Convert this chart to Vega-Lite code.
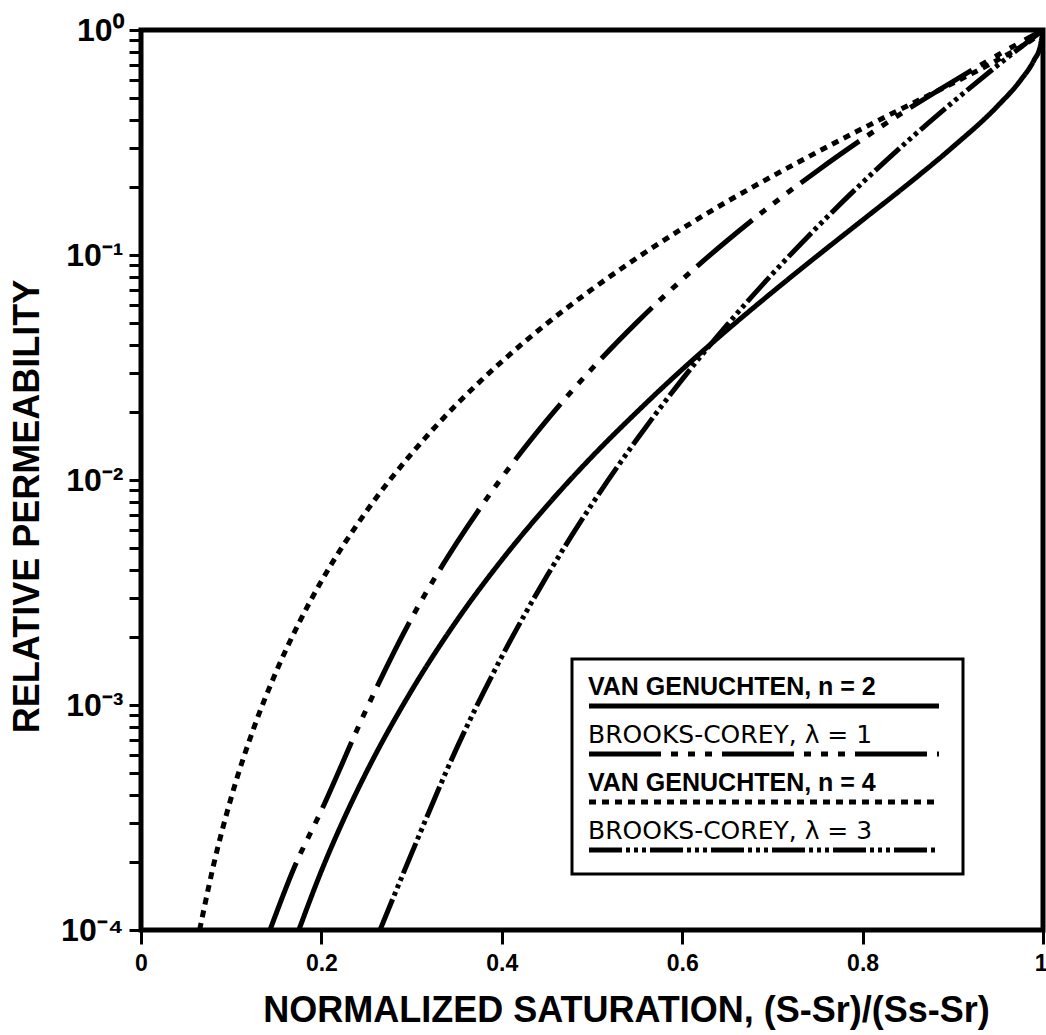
{
  "$schema": "https://vega.github.io/schema/vega-lite/v6.json",
  "width": 902,
  "height": 900,
  "autosize": {"type": "none"},
  "padding": {"left": 141, "top": 30, "right": 3, "bottom": 105},
  "background": "white",
  "config": {
    "font": "Liberation Sans",
    "view": {"stroke": "black", "strokeWidth": 5},
    "axis": {
      "domain": false,
      "grid": false,
      "ticks": true,
      "tickColor": "black",
      "tickOpacity": 1,
      "tickWidth": 3,
      "labelColor": "black",
      "titleColor": "black",
      "labelFont": "Liberation Sans",
      "titleFont": "Liberation Sans",
      "labelFontWeight": "bold",
      "titleFontWeight": "bold"
    }
  },
  "data": {
    "values": [
      {"s": 0.175, "kr": 0.0001, "model": "VAN GENUCHTEN, n = 2"},
      {"s": 0.2, "kr": 0.000183, "model": "VAN GENUCHTEN, n = 2"},
      {"s": 0.225, "kr": 0.000312, "model": "VAN GENUCHTEN, n = 2"},
      {"s": 0.25, "kr": 0.000504, "model": "VAN GENUCHTEN, n = 2"},
      {"s": 0.3, "kr": 0.00116, "model": "VAN GENUCHTEN, n = 2"},
      {"s": 0.35, "kr": 0.00237, "model": "VAN GENUCHTEN, n = 2"},
      {"s": 0.4, "kr": 0.00441, "model": "VAN GENUCHTEN, n = 2"},
      {"s": 0.45, "kr": 0.00768, "model": "VAN GENUCHTEN, n = 2"},
      {"s": 0.5, "kr": 0.0127, "model": "VAN GENUCHTEN, n = 2"},
      {"s": 0.55, "kr": 0.0201, "model": "VAN GENUCHTEN, n = 2"},
      {"s": 0.6, "kr": 0.031, "model": "VAN GENUCHTEN, n = 2"},
      {"s": 0.65, "kr": 0.0465, "model": "VAN GENUCHTEN, n = 2"},
      {"s": 0.7, "kr": 0.0684, "model": "VAN GENUCHTEN, n = 2"},
      {"s": 0.75, "kr": 0.0993, "model": "VAN GENUCHTEN, n = 2"},
      {"s": 0.8, "kr": 0.143, "model": "VAN GENUCHTEN, n = 2"},
      {"s": 0.85, "kr": 0.206, "model": "VAN GENUCHTEN, n = 2"},
      {"s": 0.9, "kr": 0.302, "model": "VAN GENUCHTEN, n = 2"},
      {"s": 0.95, "kr": 0.461, "model": "VAN GENUCHTEN, n = 2"},
      {"s": 0.975, "kr": 0.597, "model": "VAN GENUCHTEN, n = 2"},
      {"s": 0.99, "kr": 0.734, "model": "VAN GENUCHTEN, n = 2"},
      {"s": 0.997, "kr": 0.85, "model": "VAN GENUCHTEN, n = 2"},
      {"s": 1.0, "kr": 1.0, "model": "VAN GENUCHTEN, n = 2"},

      {"s": 0.143, "kr": 0.0001, "model": "BROOKS-COREY, λ = 1"},
      {"s": 0.17, "kr": 0.00019, "model": "BROOKS-COREY, λ = 1"},
      {"s": 0.2, "kr": 0.00034, "model": "BROOKS-COREY, λ = 1"},
      {"s": 0.25, "kr": 0.00096, "model": "BROOKS-COREY, λ = 1"},
      {"s": 0.3, "kr": 0.00243, "model": "BROOKS-COREY, λ = 1"},
      {"s": 0.35, "kr": 0.00525, "model": "BROOKS-COREY, λ = 1"},
      {"s": 0.4, "kr": 0.01024, "model": "BROOKS-COREY, λ = 1"},
      {"s": 0.45, "kr": 0.01845, "model": "BROOKS-COREY, λ = 1"},
      {"s": 0.5, "kr": 0.03125, "model": "BROOKS-COREY, λ = 1"},
      {"s": 0.55, "kr": 0.0503, "model": "BROOKS-COREY, λ = 1"},
      {"s": 0.6, "kr": 0.0778, "model": "BROOKS-COREY, λ = 1"},
      {"s": 0.65, "kr": 0.116, "model": "BROOKS-COREY, λ = 1"},
      {"s": 0.7, "kr": 0.168, "model": "BROOKS-COREY, λ = 1"},
      {"s": 0.75, "kr": 0.237, "model": "BROOKS-COREY, λ = 1"},
      {"s": 0.8, "kr": 0.328, "model": "BROOKS-COREY, λ = 1"},
      {"s": 0.85, "kr": 0.444, "model": "BROOKS-COREY, λ = 1"},
      {"s": 0.9, "kr": 0.59, "model": "BROOKS-COREY, λ = 1"},
      {"s": 0.95, "kr": 0.774, "model": "BROOKS-COREY, λ = 1"},
      {"s": 1.0, "kr": 1.0, "model": "BROOKS-COREY, λ = 1"},

      {"s": 0.065, "kr": 0.0001, "model": "VAN GENUCHTEN, n = 4"},
      {"s": 0.07, "kr": 0.000125, "model": "VAN GENUCHTEN, n = 4"},
      {"s": 0.08, "kr": 0.000191, "model": "VAN GENUCHTEN, n = 4"},
      {"s": 0.1, "kr": 0.000388, "model": "VAN GENUCHTEN, n = 4"},
      {"s": 0.125, "kr": 0.000789, "model": "VAN GENUCHTEN, n = 4"},
      {"s": 0.15, "kr": 0.00141, "model": "VAN GENUCHTEN, n = 4"},
      {"s": 0.175, "kr": 0.00231, "model": "VAN GENUCHTEN, n = 4"},
      {"s": 0.2, "kr": 0.00355, "model": "VAN GENUCHTEN, n = 4"},
      {"s": 0.25, "kr": 0.00727, "model": "VAN GENUCHTEN, n = 4"},
      {"s": 0.3, "kr": 0.0131, "model": "VAN GENUCHTEN, n = 4"},
      {"s": 0.35, "kr": 0.0217, "model": "VAN GENUCHTEN, n = 4"},
      {"s": 0.4, "kr": 0.0336, "model": "VAN GENUCHTEN, n = 4"},
      {"s": 0.45, "kr": 0.0496, "model": "VAN GENUCHTEN, n = 4"},
      {"s": 0.5, "kr": 0.0704, "model": "VAN GENUCHTEN, n = 4"},
      {"s": 0.55, "kr": 0.0971, "model": "VAN GENUCHTEN, n = 4"},
      {"s": 0.6, "kr": 0.131, "model": "VAN GENUCHTEN, n = 4"},
      {"s": 0.65, "kr": 0.173, "model": "VAN GENUCHTEN, n = 4"},
      {"s": 0.7, "kr": 0.224, "model": "VAN GENUCHTEN, n = 4"},
      {"s": 0.75, "kr": 0.287, "model": "VAN GENUCHTEN, n = 4"},
      {"s": 0.8, "kr": 0.365, "model": "VAN GENUCHTEN, n = 4"},
      {"s": 0.85, "kr": 0.461, "model": "VAN GENUCHTEN, n = 4"},
      {"s": 0.9, "kr": 0.58, "model": "VAN GENUCHTEN, n = 4"},
      {"s": 0.95, "kr": 0.737, "model": "VAN GENUCHTEN, n = 4"},
      {"s": 0.975, "kr": 0.84, "model": "VAN GENUCHTEN, n = 4"},
      {"s": 0.99, "kr": 0.918, "model": "VAN GENUCHTEN, n = 4"},
      {"s": 1.0, "kr": 1.0, "model": "VAN GENUCHTEN, n = 4"},

      {"s": 0.265, "kr": 0.0001, "model": "BROOKS-COREY, λ = 3"},
      {"s": 0.3, "kr": 0.000219, "model": "BROOKS-COREY, λ = 3"},
      {"s": 0.35, "kr": 0.000643, "model": "BROOKS-COREY, λ = 3"},
      {"s": 0.4, "kr": 0.00164, "model": "BROOKS-COREY, λ = 3"},
      {"s": 0.45, "kr": 0.00374, "model": "BROOKS-COREY, λ = 3"},
      {"s": 0.5, "kr": 0.00781, "model": "BROOKS-COREY, λ = 3"},
      {"s": 0.55, "kr": 0.0152, "model": "BROOKS-COREY, λ = 3"},
      {"s": 0.6, "kr": 0.028, "model": "BROOKS-COREY, λ = 3"},
      {"s": 0.65, "kr": 0.049, "model": "BROOKS-COREY, λ = 3"},
      {"s": 0.7, "kr": 0.0824, "model": "BROOKS-COREY, λ = 3"},
      {"s": 0.75, "kr": 0.1335, "model": "BROOKS-COREY, λ = 3"},
      {"s": 0.8, "kr": 0.21, "model": "BROOKS-COREY, λ = 3"},
      {"s": 0.85, "kr": 0.321, "model": "BROOKS-COREY, λ = 3"},
      {"s": 0.9, "kr": 0.478, "model": "BROOKS-COREY, λ = 3"},
      {"s": 0.95, "kr": 0.698, "model": "BROOKS-COREY, λ = 3"},
      {"s": 1.0, "kr": 1.0, "model": "BROOKS-COREY, λ = 3"}
    ]
  },
  "mark": {"type": "line", "color": "black", "strokeWidth": 5, "interpolate": "monotone", "clip": true},
  "encoding": {
    "x": {
      "field": "s",
      "type": "quantitative",
      "scale": {"domain": [0, 1], "nice": false},
      "axis": {
        "values": [0, 0.2, 0.4, 0.6, 0.8, 1],
        "format": "~g",
        "ticks": true,
        "tickSize": 14,
        "tickWidth": 3,
        "tickColor": "black",
        "tickOpacity": 1,
        "labelFontSize": 23,
        "labelPadding": 8,
        "labelAlign": {"condition": {"test": "datum.value == 1", "value": "right"}, "value": "center"},
        "labelOffset": {"condition": {"test": "datum.value == 1", "value": 4}, "value": 0},
        "labelBound": false,
        "labelFlush": false,
        "labelOverlap": false,
        "title": "NORMALIZED SATURATION,  (S-Sr)/(Ss-Sr)",
        "titleFontSize": 36,
        "titleX": 485,
        "titleY": 80,
        "titleAlign": "center",
        "titleBaseline": "middle",
        "encode": {
          "ticks": {
            "update": {
              "stroke": {"value": "black"},
              "strokeWidth": {"value": 3},
              "opacity": {"value": 1},
              "strokeOpacity": {"value": 1}
            }
          }
        }
      }
    },
    "y": {
      "field": "kr",
      "type": "quantitative",
      "scale": {"type": "log", "domain": [0.0001, 1], "nice": false},
      "axis": {
        "values": [0.0001, 0.0002, 0.0003, 0.0004, 0.0005, 0.0006, 0.0007, 0.0008, 0.0009,
                   0.001, 0.002, 0.003, 0.004, 0.005, 0.006, 0.007, 0.008, 0.009,
                   0.01, 0.02, 0.03, 0.04, 0.05, 0.06, 0.07, 0.08, 0.09,
                   0.1, 0.2, 0.3, 0.4, 0.5, 0.6, 0.7, 0.8, 0.9, 1],
        "labelExpr": "datum.value == 1 ? '10⁰' : datum.value == 0.1 ? '10⁻¹' : datum.value == 0.01 ? '10⁻²' : datum.value == 0.001 ? '10⁻³' : datum.value == 0.0001 ? '10⁻⁴' : ''",
        "ticks": true,
        "tickSize": 12,
        "tickWidth": 3,
        "tickColor": "black",
        "tickOpacity": 1,
        "labelFontSize": 32,
        "labelPadding": 6,
        "labelOverlap": false,
        "labelBound": false,
        "labelFlush": false,
        "title": "RELATIVE PERMEABILITY",
        "titleFontSize": 36,
        "titleX": -114,
        "titleY": 476,
        "titleAlign": "center",
        "titleBaseline": "middle",
        "titleAngle": 270,
        "encode": {
          "ticks": {
            "update": {
              "stroke": {"value": "black"},
              "strokeWidth": {"value": 3},
              "opacity": {"value": 1},
              "strokeOpacity": {"value": 1}
            }
          }
        }
      }
    },
    "strokeDash": {
      "field": "model",
      "type": "nominal",
      "scale": {
        "domain": ["VAN GENUCHTEN, n = 2", "BROOKS-COREY, λ = 1", "VAN GENUCHTEN, n = 4", "BROOKS-COREY, λ = 3"],
        "range": [[1, 0], [72, 10, 7, 10, 7, 10, 7, 10], [7, 6], [33, 4, 4, 4, 4, 4, 4, 4]]
      },
      "legend": {
        "title": null,
        "orient": "none",
        "legendX": 431,
        "legendY": 629,
        "strokeColor": "black",
        "padding": 14,
        "symbolType": "M-10,0H10",
        "symbolSize": 1225,
        "symbolStrokeWidth": 5,
        "symbolStrokeColor": "black",
        "symbolOffset": 158,
        "labelOffset": -196,
        "labelBaseline": "alphabetic",
        "labelFontSize": 25,
        "labelLimit": 0,
        "labelColor": "black",
        "rowPadding": 5,
        "encode": {
          "legend": {
            "update": {
              "strokeWidth": {"value": 3}
            }
          },
          "symbols": {
            "update": {
              "y": {"value": 33}
            }
          },
          "labels": {
            "update": {
              "y": {"value": 22},
              "fontWeight": {"signal": "indexof(datum.value, 'VAN') >= 0 ? 'bold' : 'normal'"},
              "font": {"signal": "indexof(datum.value, 'VAN') >= 0 ? 'Liberation Sans' : 'DejaVu Sans'"}
            }
          }
        }
      }
    }
  }
}
